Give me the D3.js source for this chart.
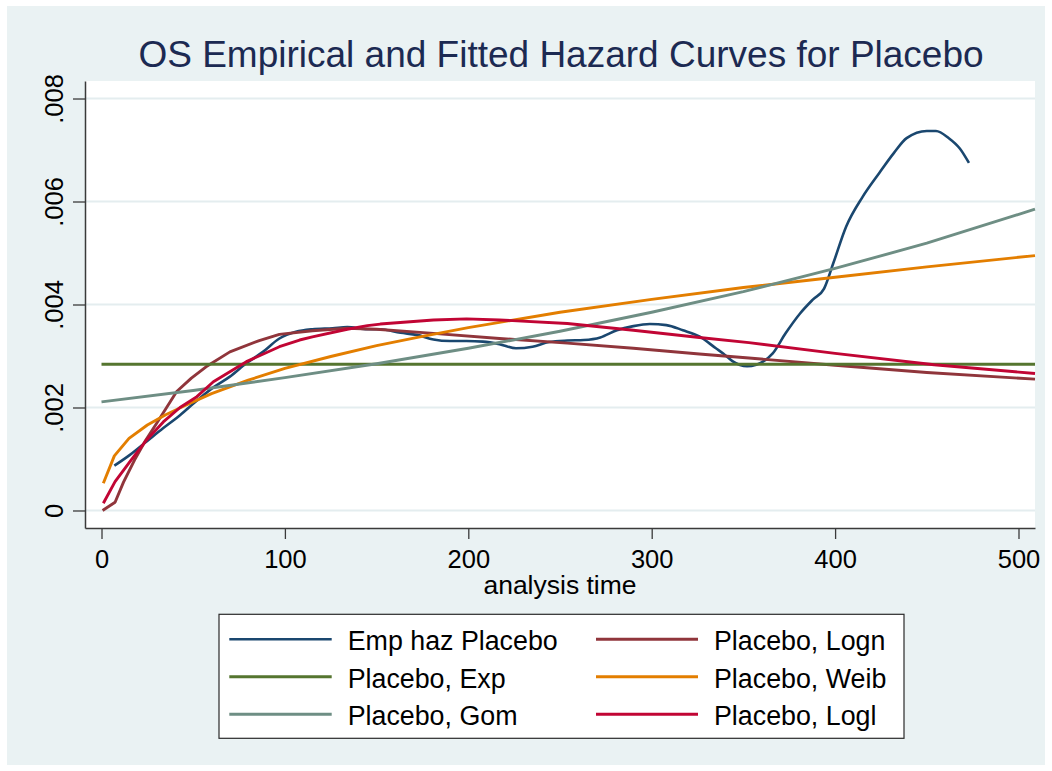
<!DOCTYPE html>
<html>
<head>
<meta charset="utf-8">
<script src="https://cdn.jsdelivr.net/npm/d3@7"></script>
<style>
  html, body { margin: 0; padding: 0; background: #ffffff; }
  svg { display: block; font-family: "Liberation Sans", Arial, sans-serif; }
</style>
</head>
<body>
<svg id="chart" width="1052" height="771"></svg>
<script>
// ---------- data ----------
const titleText = "OS Empirical and Fitted Hazard Curves for Placebo";
const xAxisTitle = "analysis time";
const xTicks = [0, 100, 200, 300, 400, 500];
const yTicks = [0, 0.002, 0.004, 0.006, 0.008];
const yTickLabels = ["0", ".002", ".004", ".006", ".008"];

const empTime = [7, 15.5, 24.6, 33.7, 42.8, 51.9, 61, 70, 79, 88, 97, 106, 115, 126, 134, 145, 152, 163, 172, 181, 190, 199, 208, 217, 226, 235, 244, 254, 263, 272, 281, 290, 299, 308, 317, 326, 335, 339, 344, 352, 357, 366, 373, 381, 388, 394, 399, 406, 415, 424, 432, 439, 450, 455, 462, 468, 473];
const empHaz = [0.00087, 0.00108, 0.00134, 0.00160, 0.00185, 0.00213, 0.00239, 0.00260, 0.00286, 0.00308, 0.00334, 0.00347, 0.00352, 0.00354, 0.00356, 0.00352, 0.00352, 0.00345, 0.00341, 0.00332, 0.00329, 0.00329, 0.00328, 0.00323, 0.00315, 0.00318, 0.00327, 0.00330, 0.00331, 0.00336, 0.00350, 0.00358, 0.00362, 0.00360, 0.00350, 0.00338, 0.00315, 0.00305, 0.00290, 0.00280, 0.00283, 0.00305, 0.00344, 0.00383, 0.00410, 0.00431, 0.00480, 0.00551, 0.00609, 0.00655, 0.00694, 0.00723, 0.00737, 0.00737, 0.00723, 0.00703, 0.00675];

const lognTime = [0.6, 7.4, 12, 18, 24, 30, 41, 49, 57, 70, 86, 97, 115, 134, 150, 181, 217, 254, 290, 326, 353, 400, 450, 509];
const lognHaz = [0, 0.00016, 0.00055, 0.00098, 0.00136, 0.00169, 0.00231, 0.00257, 0.00279, 0.00308, 0.00330, 0.00342, 0.00349, 0.00354, 0.00352, 0.00344, 0.00334, 0.00325, 0.00315, 0.00304, 0.00296, 0.00282, 0.00268, 0.00255];

const expTime = [0, 509];
const expHaz = [0.00284, 0.00284];

const weibTime = [1, 7, 15, 25, 35, 45, 60, 80, 100, 125, 150, 175, 200, 250, 300, 350, 400, 450, 509];
const weibHaz = [0.00053, 0.00106, 0.00140, 0.00166, 0.00186, 0.00203, 0.00227, 0.00253, 0.00276, 0.00299, 0.00320, 0.00338, 0.00355, 0.00385, 0.00410, 0.00433, 0.00453, 0.00473, 0.00495];

const gomTime = [0, 50, 100, 150, 200, 250, 300, 350, 400, 450, 509];
const gomHaz = [0.00211, 0.00233, 0.00258, 0.00285, 0.00315, 0.00348, 0.00385, 0.00425, 0.00470, 0.00519, 0.00585];

const loglTime = [1, 7.4, 15.5, 24.6, 33.7, 42.8, 52, 61, 79, 97, 108, 115, 134, 145, 152, 181, 199, 217, 254, 290, 326, 353, 400, 454, 509];
const loglHaz = [0.00014, 0.00056, 0.00095, 0.00137, 0.00172, 0.00200, 0.00221, 0.00250, 0.00289, 0.00318, 0.00331, 0.00337, 0.00352, 0.00359, 0.00362, 0.00370, 0.00372, 0.00370, 0.00363, 0.00350, 0.00336, 0.00326, 0.00305, 0.00283, 0.00266];

const seriesNames = ["Emp haz Placebo", "Placebo, Logn", "Placebo, Exp", "Placebo, Weib", "Placebo, Gom", "Placebo, Logl"];
const seriesColors = ["#1A476F", "#90353B", "#55752F", "#E37E00", "#6E8E84", "#C10534"];
const seriesTimes = [empTime, lognTime, expTime, weibTime, gomTime, loglTime];
const seriesValues = [empHaz, lognHaz, expHaz, weibHaz, gomHaz, loglHaz];

// ---------- layout ----------
const W = 1052, H = 771;
const plot = { left: 85, right: 1035, top: 81, bottom: 528 };
const bg = "#EAF2F3";

const svg = d3.select("#chart");
svg.append("rect").attr("x", 0).attr("y", 0).attr("width", W).attr("height", H).attr("fill", "#ffffff");
svg.append("rect").attr("x", 7).attr("y", 6).attr("width", W - 14).attr("height", H - 12).attr("fill", bg);
svg.append("rect").attr("x", plot.left).attr("y", plot.top)
   .attr("width", plot.right - plot.left).attr("height", plot.bottom - plot.top).attr("fill", "#ffffff");

const x = d3.scaleLinear().domain([-9, 509]).range([plot.left, plot.right]);
const y = d3.scaleLinear().domain([-0.00034, 0.00834]).range([plot.bottom, plot.top]);

// gridlines
svg.append("g").selectAll("line").data(yTicks).join("line")
  .attr("x1", plot.left).attr("x2", plot.right)
  .attr("y1", d => y(d)).attr("y2", d => y(d))
  .attr("stroke", "#E4EDEF").attr("stroke-width", 2);

// series
const smoothLine = d3.line().x(d => x(d[0])).y(d => y(d[1])).curve(d3.curveMonotoneX);
const straightLine = d3.line().x(d => x(d[0])).y(d => y(d[1]));
const gSeries = svg.append("g");
seriesNames.forEach((name, i) => {
  const pts = seriesTimes[i].map((t, j) => [t, seriesValues[i][j]]);
  gSeries.append("path")
    .datum(pts)
    .attr("d", i === 0 ? smoothLine : straightLine)
    .attr("fill", "none")
    .attr("stroke", seriesColors[i])
    .attr("stroke-width", i === 0 ? 2.6 : 2.9)
    .attr("stroke-linejoin", "round");
});

// axes
const axisColor = "#3a3a3a";
const yAxis = svg.append("g").attr("transform", `translate(${plot.left},0)`)
  .call(d3.axisLeft(y).tickValues(yTicks).tickSize(12).tickSizeOuter(0)
        .tickFormat((d, i) => yTickLabels[i]));
yAxis.select(".domain").attr("stroke", axisColor).attr("stroke-width", 1.5);
yAxis.selectAll(".tick line").attr("stroke", axisColor).attr("stroke-width", 1.3);
yAxis.selectAll(".tick text")
  .attr("transform", "rotate(-90)")
  .attr("x", 0).attr("y", -22.5).attr("dy", 0)
  .attr("text-anchor", "middle")
  .attr("font-size", 25.5)
  .attr("font-family", "Liberation Sans, Arial, sans-serif")
  .attr("fill", "#000");

const xAxis = svg.append("g").attr("transform", `translate(0,${plot.bottom})`)
  .call(d3.axisBottom(x).tickValues(xTicks).tickSize(11).tickSizeOuter(0).tickFormat(d3.format("d")));
xAxis.select(".domain").attr("stroke", axisColor).attr("stroke-width", 1.5);
xAxis.selectAll(".tick line").attr("stroke", axisColor).attr("stroke-width", 1.3);
xAxis.selectAll(".tick text")
  .attr("y", 40).attr("dy", 0)
  .attr("font-size", 25.5)
  .attr("font-family", "Liberation Sans, Arial, sans-serif")
  .attr("fill", "#000");

// axis title
svg.append("text").attr("x", (plot.left + plot.right) / 2).attr("y", 594)
  .attr("text-anchor", "middle").attr("font-size", 26.5).attr("fill", "#000")
  .text(xAxisTitle);

// title
svg.append("text").attr("x", 561).attr("y", 66.7)
  .attr("text-anchor", "middle").attr("font-size", 37).attr("fill", "#1C2A52")
  .text(titleText);

// legend
const legend = svg.append("g");
const lg = { left: 219, top: 614.3, right: 904, bottom: 738.3 };
legend.append("rect").attr("x", lg.left).attr("y", lg.top)
  .attr("width", lg.right - lg.left).attr("height", lg.bottom - lg.top)
  .attr("fill", "#ffffff").attr("stroke", "#2a2a2a").attr("stroke-width", 1.2);
const colLineX = [[229.3, 331.7], [596, 698]];
const colTextX = [347.7, 714];
const rowBase = [650, 687.5, 725];
seriesNames.forEach((name, i) => {
  const r = Math.floor(i / 2), c = i % 2;
  legend.append("line")
    .attr("x1", colLineX[c][0]).attr("x2", colLineX[c][1])
    .attr("y1", rowBase[r] - 10.7).attr("y2", rowBase[r] - 10.7)
    .attr("stroke", seriesColors[i]).attr("stroke-width", i === 0 ? 2.6 : 2.9);
  legend.append("text").attr("x", colTextX[c]).attr("y", rowBase[r])
    .attr("font-size", 26.8).attr("fill", "#000").text(name);
});
</script>
</body>
</html>
